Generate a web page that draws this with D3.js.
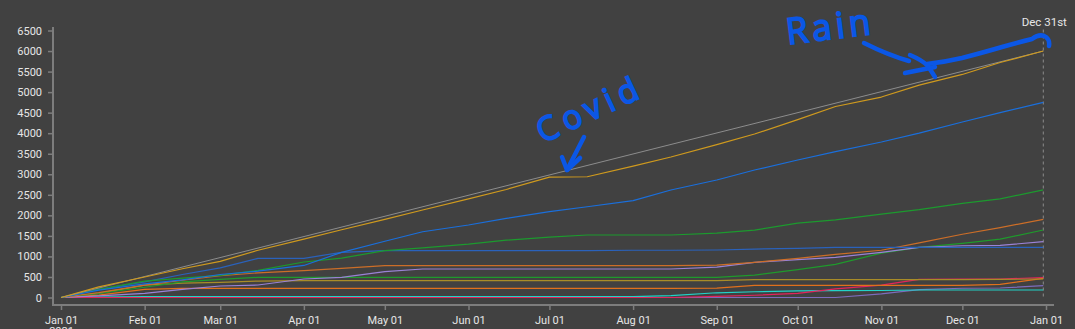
<!DOCTYPE html>
<html><head><meta charset="utf-8">
<script src="https://cdn.jsdelivr.net/npm/d3@7"></script>
<style>
html,body{margin:0;padding:0;background:#414141;overflow:hidden}
svg{display:block}
text{font-family:Roboto,"Noto Sans",sans-serif}
</style></head>
<body>
<svg id="chart" width="1075" height="329"></svg>
<script>
// ---- data (semi-monthly readings) ----
const dates = ["2021-01-01","2021-01-15","2021-02-01","2021-02-15","2021-03-01","2021-03-15",
  "2021-04-01","2021-04-15","2021-05-01","2021-05-15","2021-06-01","2021-06-15",
  "2021-07-01","2021-07-15","2021-08-01","2021-08-15","2021-09-01","2021-09-15",
  "2021-10-01","2021-10-15","2021-11-01","2021-11-15","2021-12-01","2021-12-15","2021-12-31"];
const targetDates = ["2021-01-01","2021-12-31"];
const targetValues = [0, 6000];
const totalValues   = [0,260,500,700,880,1150,1420,1650,1900,2130,2400,2630,2930,2940,3200,3420,3720,3980,4330,4650,4880,5170,5430,5720,6000];
const blueValues    = [0,180,330,430,560,640,780,1100,1370,1600,1765,1927,2089,2210,2360,2617,2860,3104,3347,3550,3785,4000,4272,4500,4750];
const steelValues   = [0,200,380,560,720,954,954,1100,1140,1140,1140,1140,1140,1140,1150,1150,1156,1180,1195,1222,1222,1222,1222,1222,1222];
const greenValues   = [0,200,400,470,540,660,864,960,1140,1210,1300,1395,1470,1521,1521,1521,1565,1640,1810,1890,2030,2140,2290,2400,2620];
const orangeValues  = [0,120,300,420,530,600,652,710,775,775,775,775,775,775,775,775,790,857,954,1051,1150,1330,1540,1700,1904];
const lavenderValues= [0,40,100,200,280,304,450,491,628,694,694,694,694,694,694,694,740,857,920,978,1100,1220,1260,1270,1359];
const green2Values  = [0,100,250,380,440,491,491,491,491,491,491,491,491,491,491,491,491,545,680,805,1080,1220,1319,1420,1643];
const oliveValues   = [0,100,300,350,370,400,410,410,410,410,410,410,410,410,410,410,410,433,433,433,433,433,433,440,450];
const orange2Values = [0,60,200,223,223,223,223,223,223,223,223,223,223,223,223,223,230,295,295,295,295,295,295,320,467];
const redValues     = [0,0,0,0,0,0,0,0,0,0,0,0,0,0,0,0,25,55,100,210,300,440,445,450,483];
const cyanValues    = [0,10,20,20,20,20,20,20,20,20,20,20,20,20,20,45,115,140,160,166,170,183,183,183,183];
const purpleValues  = [0,0,0,0,0,0,0,0,0,0,0,0,0,0,0,0,0,0,0,0,90,190,225,231,288];
const yTicks = [0,500,1000,1500,2000,2500,3000,3500,4000,4500,5000,5500,6000,6500];
const markerDate = "2021-12-31";
const markerLabel = "Dec 31st";

const series = [
  {values: purpleValues,  color:"#7c6cbc"},
  {values: cyanValues,    color:"#22d3c8"},
  {values: redValues,     color:"#e3245c"},
  {values: orange2Values, color:"#e0701c"},
  {values: oliveValues,   color:"#a88c28"},
  {values: green2Values,  color:"#1f9a2c"},
  {values: lavenderValues,color:"#9a82d6"},
  {values: orangeValues,  color:"#cc6e28"},
  {values: steelValues,   color:"#2a62bc"},
  {values: greenValues,   color:"#1c9a2e"},
  {values: blueValues,    color:"#1a6fdc"}
];

const parse = d3.utcParse("%Y-%m-%d");
const svg = d3.select("#chart");
const x = d3.scaleUtc().domain([parse("2021-01-01"), parse("2022-01-01")]).range([61, 1046]);
const y = d3.scaleLinear().domain([0, 6500]).range([297.5, 30.5]);

const axisColor = "#7d7d7d", textColor = "#e6e6e6";

// y axis
const gy = svg.append("g").attr("transform","translate(53,0)")
  .call(d3.axisLeft(y).tickValues(yTicks).tickSize(5).tickPadding(6).tickFormat(d3.format("d")));
gy.select(".domain").remove();
gy.append("line").attr("x1",0).attr("x2",0).attr("y1",27).attr("y2",306)
  .attr("stroke",axisColor).attr("stroke-width",2);
gy.selectAll(".tick line").attr("stroke",axisColor).attr("stroke-width",1.5);
gy.selectAll(".tick text").attr("fill",textColor).style("font-size","11px").style("font-family","Roboto");

// x axis
const gx = svg.append("g").attr("transform","translate(0,305)")
  .call(d3.axisBottom(x).ticks(d3.utcMonth.every(1)).tickSize(5).tickPadding(6).tickFormat(d3.utcFormat("%b %d")));
gx.select(".domain").remove();
gx.append("line").attr("x1",52).attr("x2",1054).attr("y1",0).attr("y2",0)
  .attr("stroke",axisColor).attr("stroke-width",2);
gx.selectAll(".tick line").attr("stroke",axisColor).attr("stroke-width",1.5);
gx.selectAll(".tick text").attr("fill",textColor).style("font-size","11px").style("font-family","Roboto");
gx.selectAll(".tick text").filter((d,i)=>i===0).append("tspan")
  .attr("x",0).attr("dy","1.0em").text("2021");

// marker line
const mx = x(parse(markerDate));
svg.append("line").attr("x1",mx).attr("x2",mx).attr("y1",y(6500)-1).attr("y2",y(0))
  .attr("stroke","#8a8a8a").attr("stroke-width",1).attr("stroke-dasharray","3,3");
svg.append("text").attr("x",mx+1).attr("y",26).attr("text-anchor","middle")
  .attr("fill",textColor).style("font-size","11.5px").text(markerLabel);

// lines
const line = d3.line().x(d=>x(d[0])).y(d=>y(d[1]));
const g = svg.append("g").attr("fill","none").attr("stroke-width",1.2).attr("stroke-linejoin","round");
series.forEach(s=>{
  g.append("path").attr("stroke",s.color)
   .attr("d", line(dates.map((dd,i)=>[parse(dd), s.values[i]])));
});
// target line
g.append("path").attr("stroke","#8c8c8c").attr("stroke-width",1)
  .attr("d", line(targetDates.map((dd,i)=>[parse(dd), targetValues[i]])));
// main total above target
g.append("path").attr("stroke","#cf9a1e").attr("stroke-width",1.2)
  .attr("d", line(dates.map((dd,i)=>[parse(dd), totalValues[i]])));

// hand-drawn annotations
const ink = "#0b57e6";
const ann = svg.append("g").attr("fill","none").attr("stroke",ink).attr("stroke-width",4.5)
  .attr("stroke-linecap","round").attr("stroke-linejoin","round");
svg.append("text").attr("transform","translate(543,143) rotate(-25)")
  .attr("fill",ink).attr("stroke",ink).attr("stroke-width",2.5)
  .style("font-family","Noto Sans").style("font-weight","300").style("font-size","32px")
  .style("letter-spacing","7px").text("Covid");
ann.append("path").attr("d","M584,137 L567,170");
ann.append("path").attr("d","M562,157 L567,170 L580,158");

svg.append("text").attr("transform","translate(788,44) rotate(-7)")
  .attr("fill",ink).attr("stroke",ink).attr("stroke-width",2.5)
  .style("font-family","Noto Sans").style("font-weight","300").style("font-size","35px")
  .style("letter-spacing","5px").text("Rain");
ann.append("path").attr("d","M864,43 Q888,55 909,61");
ann.append("path").attr("d","M905,73 Q920,70 935,67");
ann.append("path").attr("d","M910,55 Q922,60 928,66 L935,77");
ann.append("path").attr("d","M927,64 Q945,62 962,58 Q985,52 1002,47 Q1020,42 1032,39 Q1040,33 1046,37 Q1050,40 1049,46");
</script>
</body></html>
